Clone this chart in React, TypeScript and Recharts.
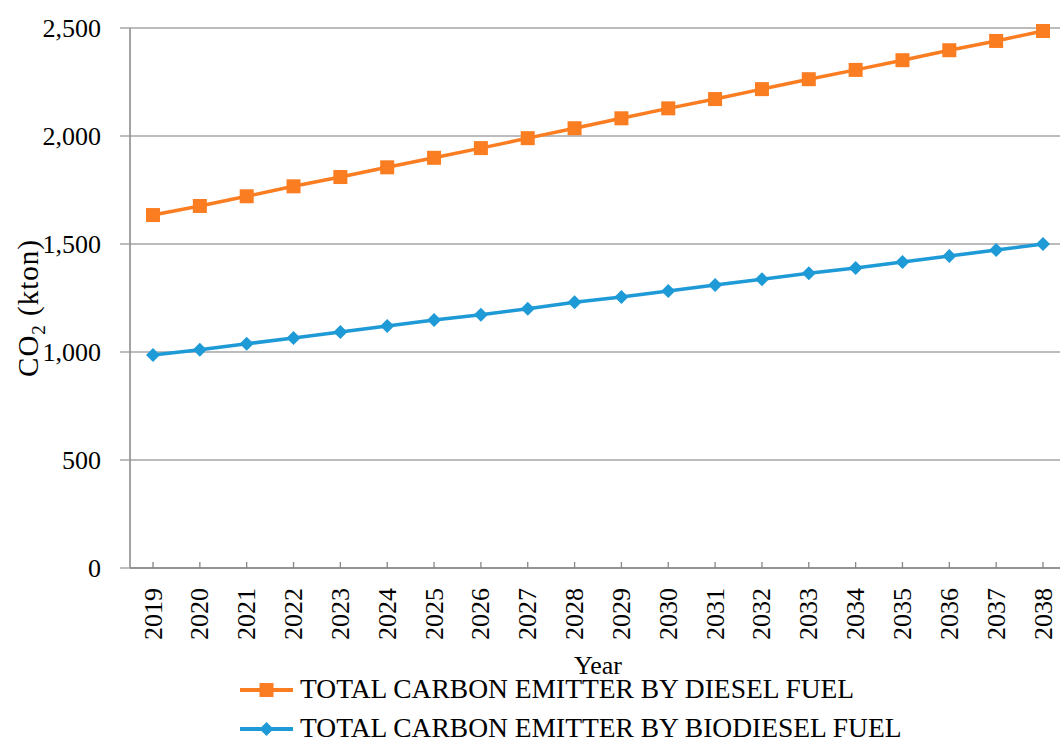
import { LineChart, Line, XAxis, YAxis, CartesianGrid, Legend, Label } from "recharts";

const years = [
  "2019", "2020", "2021", "2022", "2023", "2024", "2025", "2026", "2027", "2028",
  "2029", "2030", "2031", "2032", "2033", "2034", "2035", "2036", "2037", "2038",
];
const dieselValues = [
  1634, 1676, 1721, 1767, 1810, 1855, 1899, 1944, 1990, 2036,
  2082, 2128, 2171, 2217, 2263, 2306, 2351, 2397, 2440, 2486,
];
const biodieselValues = [
  986, 1010, 1038, 1065, 1093, 1120, 1148, 1172, 1200, 1230,
  1255, 1282, 1310, 1337, 1365, 1389, 1417, 1444, 1472, 1500,
];
const yTicks = [0, 500, 1000, 1500, 2000, 2500];
const dieselName = "TOTAL CARBON EMITTER BY DIESEL FUEL";
const biodieselName = "TOTAL CARBON EMITTER BY BIODIESEL FUEL";

const ORANGE = "#FA7D22";
const BLUE = "#1E9AD6";
const FONT = "Liberation Serif, DejaVu Serif, serif";
const txt = { fontFamily: FONT };

const data = years.map((year, i) => ({
  year,
  diesel: dieselValues[i],
  biodiesel: biodieselValues[i],
}));

const SquareDot = (props: any) => {
  const { cx, cy } = props;
  if (cx == null || cy == null) return null;
  return <rect x={cx - 7} y={cy - 7} width={14} height={14} fill={ORANGE} />;
};

const DiamondDot = (props: any) => {
  const { cx, cy } = props;
  if (cx == null || cy == null) return null;
  return (
    <polygon
      points={`${cx},${cy - 7} ${cx + 7},${cy} ${cx},${cy + 7} ${cx - 7},${cy}`}
      fill={BLUE}
    />
  );
};

// tick marks point up into the plot, labels read bottom-to-top
const YearTick = (props: any) => {
  const { x, y, payload } = props;
  return (
    <g>
      <line x1={x} x2={x} y1={y - 6} y2={y} stroke="#868686" strokeWidth={1.3} />
      <text
        x={x}
        y={y + 20}
        transform={`rotate(-90, ${x}, ${y + 20})`}
        textAnchor="end"
        dominantBaseline="central"
        fontSize={26}
        style={txt}
        fill="#000"
      >
        {payload.value}
      </text>
    </g>
  );
};

const YLabel = (props: any) => {
  const vb = props.viewBox;
  const cx = vb.x + 38;
  const cy = vb.y + vb.height / 2 + 10;
  return (
    <text
      x={0}
      y={0}
      transform={`translate(${cx}, ${cy}) rotate(-90)`}
      textAnchor="middle"
      fontSize={29}
      letterSpacing={1}
      style={txt}
      fill="#000"
    >
      CO
      <tspan fontSize={19} dy={7}>2</tspan>
      <tspan dy={-7}> (kton)</tspan>
    </text>
  );
};

const XLabel = (props: any) => {
  const vb = props.viewBox;
  return (
    <text
      x={vb.x + vb.width / 2}
      y={vb.y + 106}
      textAnchor="middle"
      fontSize={26}
      style={txt}
      fill="#000"
    >
      Year
    </text>
  );
};

const LegendContent = () => (
  <svg width={780} height={80} style={{ display: "block" }}>
    <line x1={10} x2={63} y1={30} y2={30} stroke={ORANGE} strokeWidth={4} />
    <rect x={29.5} y={23} width={14} height={14} fill={ORANGE} />
    <text x={70} y={38} fontSize={27.5} style={txt} fill="#000">
      {dieselName}
    </text>
    <line x1={10} x2={63} y1={69} y2={69} stroke={BLUE} strokeWidth={4} />
    <polygon points="36.5,62 43.5,69 36.5,76 29.5,69" fill={BLUE} />
    <text x={70} y={77} fontSize={27.5} style={txt} fill="#000">
      {biodieselName}
    </text>
  </svg>
);

export default function App() {
  return (
    <div
      style={{
        position: "absolute",
        left: 0,
        top: 0,
        width: 1060,
        height: 738,
        overflow: "hidden",
        background: "#fff",
        fontFamily: FONT,
      }}
    >
      <LineChart
        width={1080}
        height={738}
        data={data}
        margin={{ top: 28, right: 14, bottom: 0, left: 0 }}
        style={txt}
      >
        <CartesianGrid vertical={false} stroke="#A6A6A6" strokeWidth={1.5} />
        <XAxis
          dataKey="year"
          type="category"
          interval={0}
          height={170}
          padding={{ left: 23, right: 23 }}
          stroke="#868686"
          strokeWidth={1.5}
          tickLine={false}
          tickSize={0}
          tickMargin={0}
          tick={<YearTick />}
        >
          <Label content={<XLabel />} />
        </XAxis>
        <YAxis
          width={130}
          domain={[0, 2500]}
          ticks={yTicks}
          interval={0}
          tickFormatter={(v: number) => v.toLocaleString("en-US")}
          stroke="#868686"
          strokeWidth={1.5}
          tickSize={10}
          tickMargin={19}
          tickLine={{ stroke: "#A6A6A6" }}
          tick={{ fontSize: 26, fontFamily: FONT, fill: "#000" }}
        >
          <Label content={<YLabel />} />
        </YAxis>
        <Legend
          verticalAlign="middle"
          align="center"
          layout="horizontal"
          wrapperStyle={{ top: 660, left: 230, width: 780, height: 80 }}
          content={<LegendContent />}
        />
        <Line
          type="linear"
          dataKey="diesel"
          name={dieselName}
          stroke={ORANGE}
          strokeWidth={3.5}
          dot={<SquareDot />}
          activeDot={false}
          isAnimationActive={false}
        />
        <Line
          type="linear"
          dataKey="biodiesel"
          name={biodieselName}
          stroke={BLUE}
          strokeWidth={3.5}
          dot={<DiamondDot />}
          activeDot={false}
          isAnimationActive={false}
        />
      </LineChart>
    </div>
  );
}
